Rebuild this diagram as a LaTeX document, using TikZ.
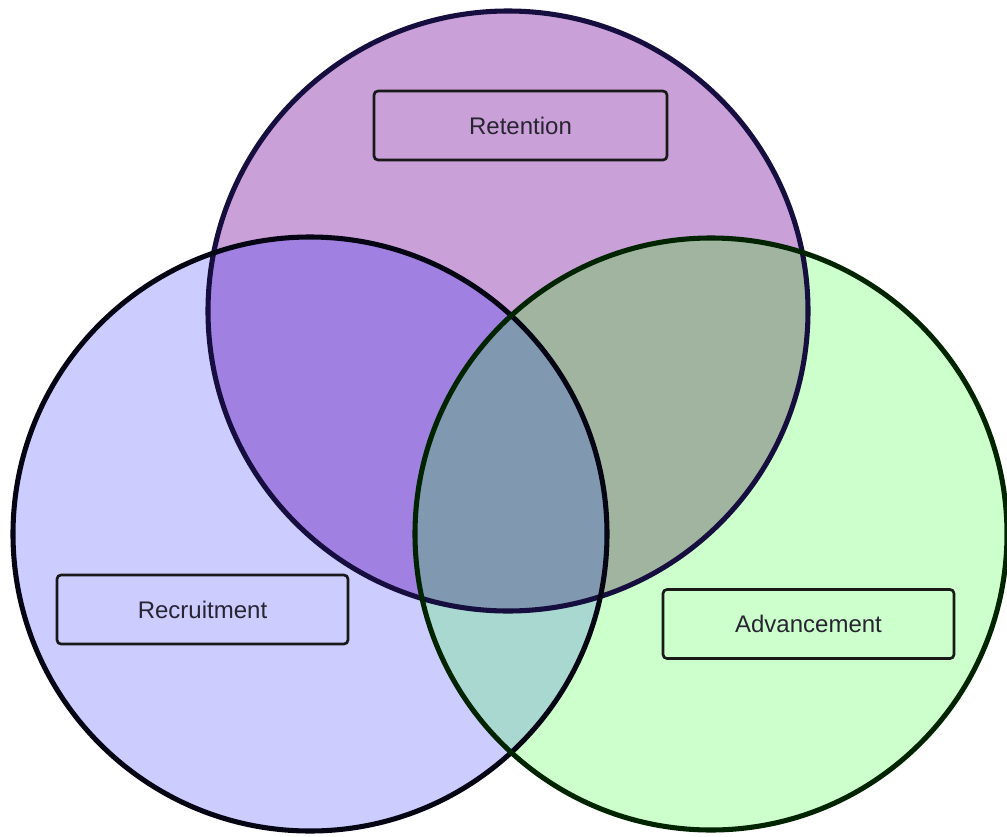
\documentclass[tikz,border=0pt]{standalone}
\usepackage{fontspec}
\setmainfont{Liberation Sans}
\usepackage{xcolor}

\definecolor{retfill}{RGB}{201,160,215}
\definecolor{recfill}{RGB}{204,204,255}
\definecolor{advfill}{RGB}{204,255,204}
\definecolor{retrec}{RGB}{160,128,224}
\definecolor{retadv}{RGB}{160,180,160}
\definecolor{recadv}{RGB}{168,216,208}
\definecolor{allfill}{RGB}{128,152,176}
\definecolor{retline}{RGB}{22,14,62}
\definecolor{recline}{RGB}{5,5,20}
\definecolor{advline}{RGB}{0,35,0}
\definecolor{labeltext}{RGB}{40,36,50}

\tikzset{
  labelbox/.style={draw=black!90, line width=2pt, rounded corners=3pt, minimum height=51.75pt, inner sep=0pt, text=labeltext, font=\fontsize{18}{20}\selectfont},
  ring/.style={line width=3.8pt}
}

\begin{document}
\begin{tikzpicture}[x=0.75pt,y=0.75pt,yscale=-1,xscale=1]
        \useasboundingbox (0,0) rectangle (1007,836);

        %Centres of the three circles
        \coordinate (ret) at (508,311);
        \coordinate (rec) at (310,534);
        \coordinate (adv) at (711,534);

        %Shape: Circle fills
        \fill [retfill] (ret) circle [radius=300];
        \fill [recfill] (rec) circle [radius=297];
        \fill [advfill] (adv) circle [radius=296];

        %Overlaps
        \begin{scope}
          \clip (ret) circle [radius=300];
          \fill [retrec] (rec) circle [radius=297];
          \fill [retadv] (adv) circle [radius=296];
        \end{scope}
        \begin{scope}
          \clip (rec) circle [radius=297];
          \fill [recadv] (adv) circle [radius=296];
          \clip (ret) circle [radius=300];
          \fill [allfill] (adv) circle [radius=296];
        \end{scope}

        %Shape: Circle outlines
        \draw [ring, draw=retline] (ret) circle [radius=300];
        \draw [ring, draw=recline] (rec) circle [radius=297];
        \draw [ring, draw=advline] (adv) circle [radius=296];

        % Text Node
        \node [labelbox, minimum width=219.75pt] (retention) at (520.5,125.5) {Retention};
        % Text Node
        \node [labelbox, minimum width=218.25pt] (recruitment) at (202.5,609.5) {Recruitment};
        % Text Node
        \node [labelbox, minimum width=218.25pt] (advancement) at (808.5,624) {Advancement};

\end{tikzpicture}
\end{document}
